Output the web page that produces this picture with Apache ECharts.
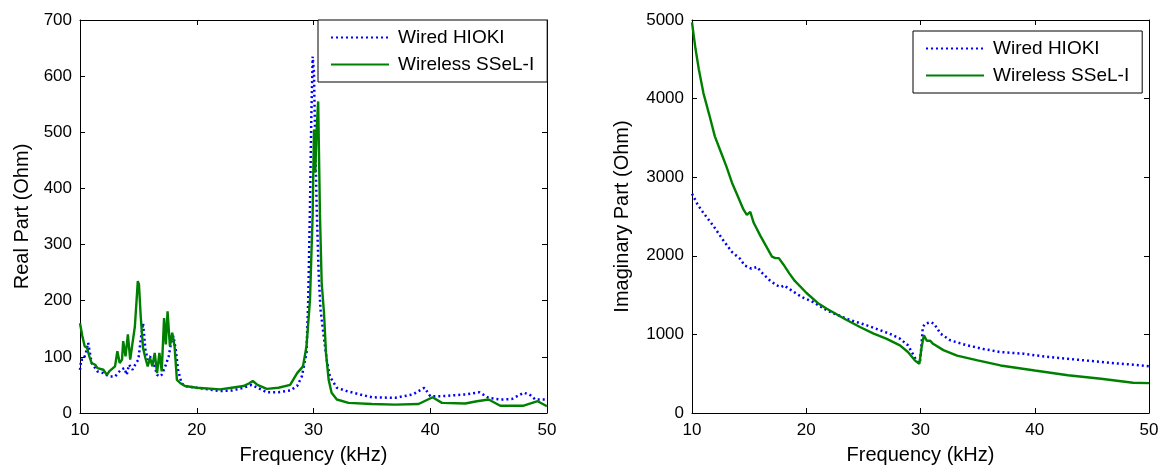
<!DOCTYPE html>
<html>
<head>
<meta charset="utf-8">
<script src="https://cdn.jsdelivr.net/npm/echarts@6/dist/echarts.min.js"></script>
<style>
html,body{margin:0;padding:0;background:#fff;}
#chart{width:1161px;height:468px;}
</style>
</head>
<body>
<div id="chart"></div>
<script>
// ---- Data ----
const seriesNames = ['Wired HIOKI', 'Wireless SSeL-I'];
const xTickLabels = [10, 20, 30, 40, 50];

// Real part, wired (blue dotted)
const realWiredF = [10, 10.1, 10.3, 10.5, 10.7, 10.85, 11.0, 11.2, 11.5, 12, 12.5, 13, 13.5, 13.8, 14, 14.2, 14.5, 14.8, 15, 15.2, 15.4, 15.6, 15.8, 16, 16.2, 16.4, 16.6, 16.8, 17, 17.3, 17.6, 17.8, 18.0, 18.2, 18.4, 18.7, 19, 20, 22, 23, 24, 24.7, 25.5, 26, 27, 28, 28.6, 29, 29.4, 29.55, 29.7, 29.81, 29.93, 30.04, 30.13, 30.27, 30.44, 30.6, 30.84, 31.13, 31.4, 32, 32.84, 34, 35, 37, 38.5, 39.5, 40, 41, 43, 44.2, 45, 46, 47, 48, 48.5, 49, 50];
const realWiredV = [77, 95, 95, 107, 125, 107, 89, 83, 74, 71, 65, 65, 77, 80, 68, 86, 77, 89, 95, 131, 160, 113, 95, 101, 89, 83, 68, 65, 68, 83, 101, 125, 137, 113, 77, 53, 48, 45, 39, 40, 45, 50, 42, 37, 37, 40, 48, 65, 107, 202, 368, 523, 635, 606, 499, 368, 249, 184, 143, 95, 65, 45, 39, 33, 28, 27, 33, 45, 30, 30, 33, 37, 27, 24, 25, 36, 33, 24, 24];

// Real part, wireless (green solid)
const realWirelessF = [10, 10.2, 10.4, 10.6, 10.8, 11.0, 11.3, 11.5, 12.0, 12.3, 12.5, 13.0, 13.2, 13.4, 13.6, 13.7, 13.9, 14.1, 14.3, 14.5, 14.7, 14.85, 14.95, 15.05, 15.2, 15.4, 15.6, 15.8, 16.0, 16.2, 16.4, 16.6, 16.8, 17.0, 17.2, 17.35, 17.5, 17.7, 17.9, 18.1, 18.3, 18.6, 19, 20, 22, 23, 24, 24.5, 24.8, 25.2, 26, 27, 28, 28.6, 29.1, 29.4, 29.7, 29.93, 30.04, 30.15, 30.27, 30.4, 30.55, 30.7, 30.9, 31.07, 31.3, 31.55, 32, 33, 35, 37, 39, 40.2, 41, 43, 44, 45, 46, 48, 49.2, 50];
const realWirelessV = [160, 137, 119, 116, 101, 89, 86, 80, 77, 68, 74, 83, 110, 89, 95, 128, 101, 140, 95, 125, 154, 202, 235, 229, 172, 116, 98, 83, 98, 83, 107, 71, 107, 74, 169, 122, 181, 119, 143, 119, 59, 53, 48, 45, 42, 45, 48, 53, 57, 50, 43, 45, 50, 71, 83, 119, 202, 356, 505, 428, 505, 555, 356, 232, 178, 107, 59, 36, 24, 18, 16, 15, 16, 28, 18, 17, 21, 24, 13, 13, 21, 12];

// Imaginary part, wired (blue dotted)
const imagWiredF = [10, 10.5, 11, 11.9, 12.7, 13.5, 14.2, 14.6, 15.2, 15.7, 16.2, 16.8, 17.4, 17.8, 18.05, 18.7, 19.6, 20.6, 21.8, 23.5, 25.3, 27.3, 28.2, 28.9, 29.3, 29.7, 29.95, 30.05, 30.2, 30.4, 30.9, 31.2, 31.75, 32.6, 34.1, 35.5, 37, 39, 40, 41.4, 42.9, 44.3, 45.8, 47.2, 48.6, 50];
const imagWiredV = [2790, 2650, 2545, 2375, 2205, 2048, 1963, 1879, 1836, 1858, 1772, 1688, 1624, 1603, 1624, 1560, 1476, 1412, 1306, 1200, 1115, 1009, 946, 861, 760, 650, 640, 800, 1090, 1135, 1156, 1135, 1010, 925, 860, 815, 775, 755, 735, 710, 690, 670, 650, 630, 615, 595];

// Imaginary part, wireless (green solid)
const imagWirelessF = [10, 10.3, 10.6, 11, 11.5, 12, 12.5, 13, 13.5, 14, 14.5, 14.8, 15.1, 15.4, 16, 16.5, 17, 17.3, 17.6, 18, 18.5, 19, 20, 21, 21.8, 23.5, 24.7, 25.9, 27, 28.2, 28.9, 29.5, 29.9, 30.1, 30.3, 30.55, 30.85, 31.1, 32, 33.2, 35, 37, 40, 42.9, 45.8, 48.6, 50];
const imagWirelessV = [4970, 4640, 4370, 4070, 3800, 3520, 3330, 3140, 2930, 2760, 2590, 2520, 2560, 2420, 2250, 2120, 1990, 1970, 1970, 1890, 1780, 1680, 1530, 1400, 1327, 1187, 1094, 1009, 946, 861, 776, 670, 625, 840, 990, 920, 920, 880, 800, 730, 670, 605, 540, 480, 435, 385, 380];

// ---- Helpers ----
function pairs(f, v) { return f.map((x, i) => [x, v[i]]); }
const FONT = 'Liberation Sans, Arial, Helvetica, sans-serif';
const BLUE = '#0000ff';
const GREEN = '#008000';

function baseAxis(extra) {
  return Object.assign({
    type: 'value',
    axisLine: { show: true, onZero: false, lineStyle: { color: '#000', width: 1 } },
    axisTick: { show: true, inside: true, length: 5, lineStyle: { color: '#000', width: 1 } },
    splitLine: { show: false },
    axisLabel: { color: '#000', fontSize: 17, fontFamily: FONT, margin: 8, formatter: function (v) { return String(v); } },
    nameTextStyle: { color: '#000', fontSize: 20, fontFamily: FONT }
  }, extra);
}
function mirror(a) { a.axisLabel = { show: false }; return a; }

const xLabel = { color: '#000', fontSize: 17, fontFamily: FONT, margin: 9, formatter: function (v) { return String(v); } };
const xAxes = [
  baseAxis({ gridIndex: 0, position: 'bottom', min: 10, max: 50, interval: 10, name: 'Frequency (kHz)', nameLocation: 'middle', nameGap: 32, axisLabel: xLabel }),
  mirror(baseAxis({ gridIndex: 0, position: 'top', min: 10, max: 50, interval: 10 })),
  baseAxis({ gridIndex: 1, position: 'bottom', min: 10, max: 50, interval: 10, name: 'Frequency (kHz)', nameLocation: 'middle', nameGap: 32, axisLabel: xLabel }),
  mirror(baseAxis({ gridIndex: 1, position: 'top', min: 10, max: 50, interval: 10 }))
];
const yAxes = [
  baseAxis({ gridIndex: 0, position: 'left', min: 0, max: 700, interval: 100, name: 'Real Part (Ohm)', nameLocation: 'middle', nameGap: 48 }),
  mirror(baseAxis({ gridIndex: 0, position: 'right', min: 0, max: 700, interval: 100 })),
  baseAxis({ gridIndex: 1, position: 'left', min: 0, max: 5000, interval: 1000, name: 'Imaginary Part (Ohm)', nameLocation: 'middle', nameGap: 60 }),
  mirror(baseAxis({ gridIndex: 1, position: 'right', min: 0, max: 5000, interval: 1000 }))
];

function lineSeries(name, data, xi, yi, dotted) {
  return {
    name: name, type: 'line', data: data, xAxisIndex: xi, yAxisIndex: yi,
    showSymbol: false, symbol: 'none', smooth: false,
    lineStyle: dotted ? { color: BLUE, width: 2.5, type: [2, 3] } : { color: GREEN, width: 2.4, type: 'solid' },
    itemStyle: { color: dotted ? BLUE : GREEN },
    emphasis: { disabled: true }
  };
}

function legendAt(left, top) {
  return {
    data: seriesNames, orient: 'vertical', left: left, top: top,
    itemWidth: 58, itemHeight: 14, itemGap: 8,
    padding: [8, 13, 8, 12],
    borderColor: '#000', borderWidth: 1, borderRadius: 0, backgroundColor: '#fff',
    itemStyle: { opacity: 0, color: 'rgba(0,0,0,0)', borderWidth: 0 },
    textStyle: { color: '#000', fontSize: 19, fontFamily: FONT, padding: [0, 0, 0, 4] },
    selectedMode: false
  };
}

const chart = echarts.init(document.getElementById('chart'), null, { renderer: 'canvas' });
chart.setOption({
  animation: false,
  backgroundColor: '#fff',
  grid: [
    { left: 80, top: 20, width: 467, height: 393, containLabel: false, outerBoundsMode: 'none' },
    { left: 692, top: 20, width: 457, height: 393, containLabel: false, outerBoundsMode: 'none' }
  ],
  xAxis: xAxes,
  yAxis: yAxes,
  legend: [legendAt(318, 20), legendAt(913, 31)],
  series: [
    lineSeries(seriesNames[0], pairs(realWiredF, realWiredV), 0, 0, true),
    lineSeries(seriesNames[1], pairs(realWirelessF, realWirelessV), 0, 0, false),
    lineSeries(seriesNames[0], pairs(imagWiredF, imagWiredV), 2, 2, true),
    lineSeries(seriesNames[1], pairs(imagWirelessF, imagWirelessV), 2, 2, false)
  ]
});
</script>
</body>
</html>
